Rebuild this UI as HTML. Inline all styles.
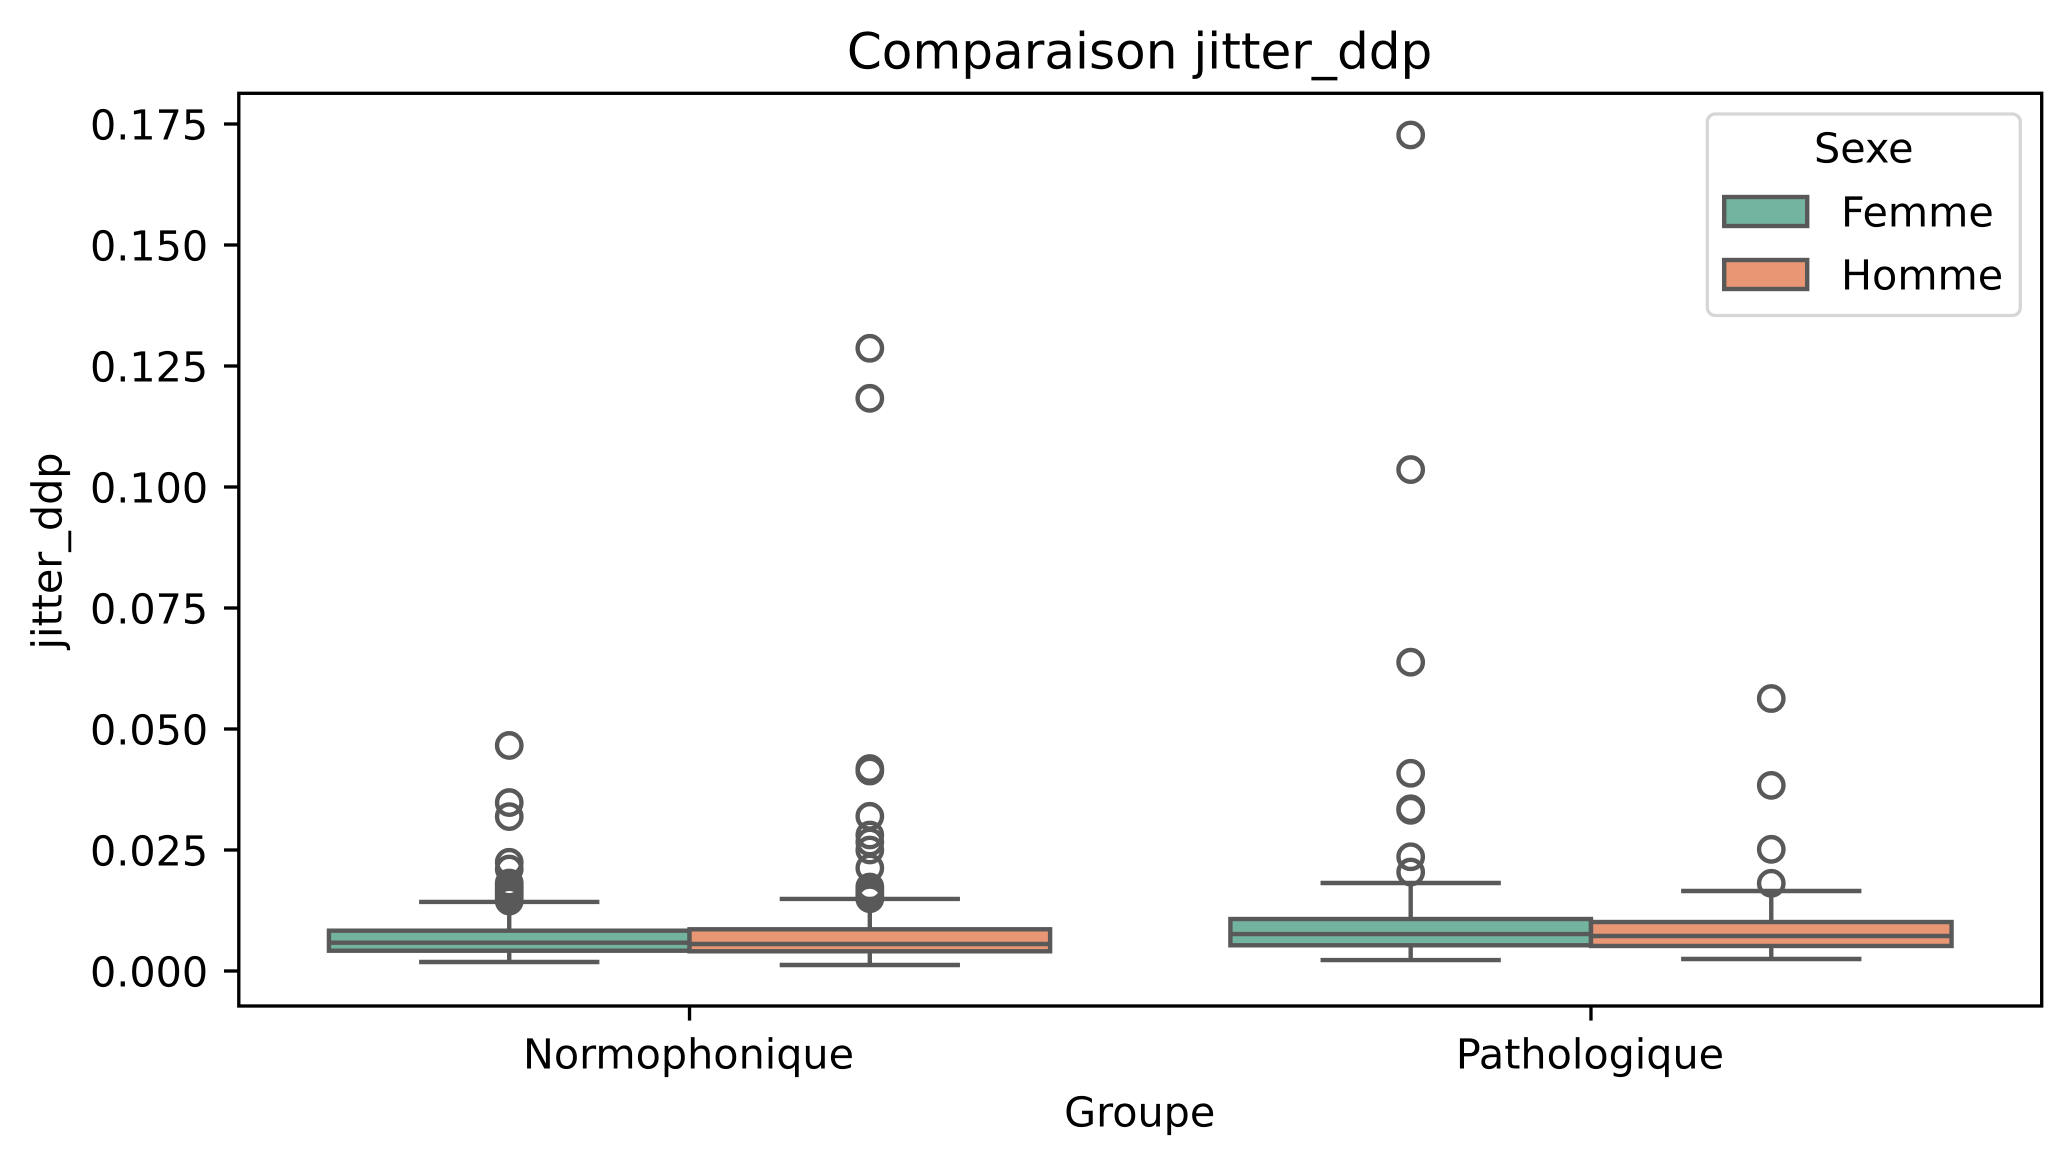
<!DOCTYPE html>
<html lang="fr">
<head>
<meta charset="utf-8">
<title>Comparaison jitter_ddp</title>
<style>
  html, body { margin: 0; padding: 0; background: #ffffff; }
  svg { display: block; }
  text { font-family: "DejaVu Sans", "Liberation Sans", sans-serif; fill: #000000; text-rendering: geometricPrecision; }
</style>
</head>
<body>
<svg id="chart" xmlns="http://www.w3.org/2000/svg" width="2071" height="1166" viewBox="0 0 2071 1166">
  <rect x="0" y="0" width="2071" height="1166" fill="#ffffff"/>
  <g id="marks"></g>
  <g id="axes"></g>
  <rect x="238.8" y="93.3" width="1802.9" height="912.7" fill="none" stroke="#000000" stroke-width="3.33"/>
  <text x="1139.6" y="68.3" font-size="50.1" text-anchor="middle">Comparaison jitter_ddp</text>
  <text x="1139.7" y="1126.7" font-size="41.3" text-anchor="middle">Groupe</text>
  <text transform="translate(61.7 551) rotate(-90)" font-size="41.3" text-anchor="middle">jitter_ddp</text>
  <g>
    <rect x="1707.3" y="114" width="313" height="201.5" rx="8" ry="8" fill="#ffffff" fill-opacity="0.8" stroke="#d6d6d6" stroke-width="3.33"/>
    <text x="1863.8" y="162.6" font-size="41.3" text-anchor="middle">Sexe</text>
    <rect x="1724.2" y="197" width="83" height="29" fill="#73b4a0" stroke="#595959" stroke-width="4.4"/>
    <text x="1841" y="226.7" font-size="41.3">Femme</text>
    <rect x="1724.2" y="260" width="83" height="29" fill="#e89674" stroke="#595959" stroke-width="4.4"/>
    <text x="1841" y="289.3" font-size="41.3">Homme</text>
  </g>
</svg>
<script>
// Chart data
const categories = ["Normophonique", "Pathologique"];
const hues = ["Femme", "Homme"];
const yTickValues = [0, 0.025, 0.05, 0.075, 0.1, 0.125, 0.15, 0.175];
const yTickLabels = ["0.000", "0.025", "0.050", "0.075", "0.100", "0.125", "0.150", "0.175"];

const femmeQ1 = [0.00419, 0.00531];
const femmeMedian = [0.00585, 0.00764];
const femmeQ3 = [0.00833, 0.01074];
const femmeWhiskerLow = [0.00186, 0.00227];
const femmeWhiskerHigh = [0.01426, 0.01818];
const femmeOutliersNormo = [0.0466, 0.0348, 0.0319, 0.02246, 0.02107, 0.01818, 0.01777, 0.01736, 0.01694, 0.01653, 0.01612, 0.0157, 0.01529, 0.01488, 0.01446];
const femmeOutliersPatho = [0.17273, 0.1036, 0.0638, 0.04085, 0.03353, 0.0332, 0.0236, 0.02045];

const hommeQ1 = [0.00407, 0.00517];
const hommeMedian = [0.00558, 0.00723];
const hommeQ3 = [0.00862, 0.01012];
const hommeWhiskerLow = [0.00124, 0.00248];
const hommeWhiskerHigh = [0.01488, 0.01653];
const hommeOutliersNormo = [0.12866, 0.11832, 0.04184, 0.04132, 0.03196, 0.0281, 0.02665, 0.025, 0.02128, 0.01736, 0.01674, 0.01612, 0.0155, 0.01494];
const hommeOutliersPatho = [0.0563, 0.03836, 0.02514, 0.01812];

const NS = "http://www.w3.org/2000/svg";
const LINE = "#595959";
const marks = document.getElementById("marks");
const axes = document.getElementById("axes");

function xScale(pos) { return 238.8 + (pos + 0.5) * 901.45; }
function yScale(v) { return 971 - 4840 * v; }

function make(tag, parent, attrs) {
  const el = document.createElementNS(NS, tag);
  for (const k in attrs) el.setAttribute(k, attrs[k]);
  parent.appendChild(el);
  return el;
}

function drawLine(parent, name, x1, y1, x2, y2) {
  const el = make("line", parent, { x1: x1, y1: y1, x2: x2, y2: y2, stroke: LINE, "stroke-width": 4.4 });
  
  
  return el;
}

function drawBox(hue, catIndex, offset, fill, q1, med, q3, lo, hi, outliers) {
  const group = make("g", marks, {});
  
  
  const left = xScale(catIndex + offset);
  const right = xScale(catIndex + offset + 0.4);
  const center = xScale(catIndex + offset + 0.2);
  const capL = xScale(catIndex + offset + 0.1);
  const capR = xScale(catIndex + offset + 0.3);
  drawLine(group, 'whisker-low', center, yScale(q1), center, yScale(lo));
  drawLine(group, 'whisker-high', center, yScale(q3), center, yScale(hi));
  drawLine(group, 'cap-low', capL, yScale(lo), capR, yScale(lo));
  drawLine(group, 'cap-high', capL, yScale(hi), capR, yScale(hi));
  const box = make("rect", group, { x: left, y: yScale(q3), width: right - left, height: yScale(q1) - yScale(q3), fill: fill, stroke: LINE, "stroke-width": 4.4 });
  
  
  drawLine(group, 'median-line', left, yScale(med), right, yScale(med));
  outliers.forEach(function (v) {
    const c = make("circle", group, { cx: center, cy: yScale(v), r: 12.2, fill: "none", stroke: LINE, "stroke-width": 4.4 });
    
    
  });
}

const femmeOutliers = [femmeOutliersNormo, femmeOutliersPatho];
const hommeOutliers = [hommeOutliersNormo, hommeOutliersPatho];
categories.forEach(function (cat, i) {
  drawBox(hues[0], i, -0.4, "#73b4a0", femmeQ1[i], femmeMedian[i], femmeQ3[i], femmeWhiskerLow[i], femmeWhiskerHigh[i], femmeOutliers[i]);
  drawBox(hues[1], i, 0, "#e89674", hommeQ1[i], hommeMedian[i], hommeQ3[i], hommeWhiskerLow[i], hommeWhiskerHigh[i], hommeOutliers[i]);
});

yTickValues.forEach(function (v, i) {
  const y = yScale(v);
  const tick = make("line", axes, { x1: 224, y1: y, x2: 238.8, y2: y, stroke: "#000000", "stroke-width": 3.33 });
  
  
  const label = make("text", axes, { x: 208.2, y: y + 15.6, "font-size": 41.3, "text-anchor": "end" });
  
  
  label.textContent = yTickLabels[i];
});

categories.forEach(function (cat, i) {
  const x = xScale(i);
  const tick = make("line", axes, { x1: x, y1: 1006, x2: x, y2: 1020.6, stroke: "#000000", "stroke-width": 3.33 });
  
  
  const label = make("text", axes, { x: x - 1, y: 1068.3, "font-size": 41.3, "text-anchor": "middle" });
  
  
  label.textContent = cat;
});
</script>
</body>
</html>
